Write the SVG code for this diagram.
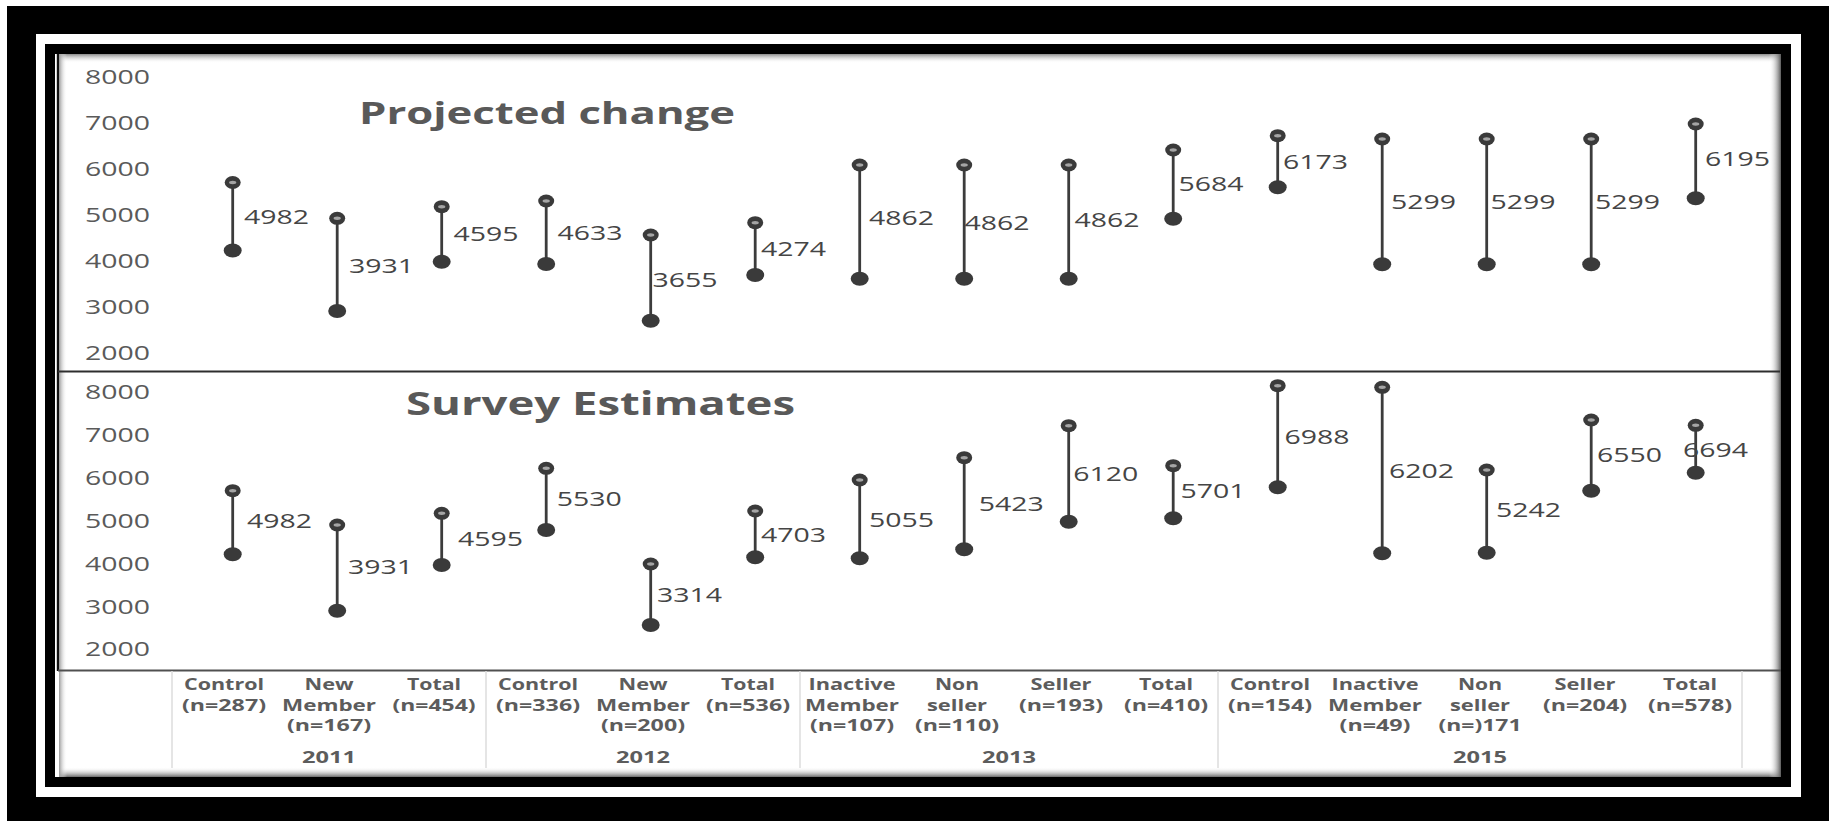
<svg xmlns="http://www.w3.org/2000/svg" xmlns:xlink="http://www.w3.org/1999/xlink" width="1831" height="821" viewBox="0 0 1831 821">
<defs>
<style>
.ax{font-family:"Open Sans","Liberation Sans",sans-serif;font-size:20px;fill:#5a5a5a;text-anchor:end}
.dl{font-family:"Open Sans","Liberation Sans",sans-serif;font-size:20px;fill:#454545}
.tt{font-family:"Open Sans","Liberation Sans",sans-serif;font-weight:bold;fill:#595959}
.cat{font-family:"Open Sans","Liberation Sans",sans-serif;font-weight:bold;font-size:16px;fill:#5c5c5c;text-anchor:middle}
.stem{stroke:#3c3c3c;stroke-width:2.8}
.sep{stroke:#dcdcdc;stroke-width:1.5}
</style>
<linearGradient id="gTop" x1="0" y1="0" x2="0" y2="1"><stop offset="0" stop-color="#8a8a8a"/><stop offset="1" stop-color="#ffffff" stop-opacity="0"/></linearGradient>
<linearGradient id="gBot" x1="0" y1="1" x2="0" y2="0"><stop offset="0" stop-color="#6a6a6a"/><stop offset="1" stop-color="#ffffff" stop-opacity="0"/></linearGradient>
<linearGradient id="gLeft" x1="0" y1="0" x2="1" y2="0"><stop offset="0" stop-color="#9a9a9a"/><stop offset="1" stop-color="#ffffff" stop-opacity="0"/></linearGradient>
<linearGradient id="gRight" x1="1" y1="0" x2="0" y2="0"><stop offset="0" stop-color="#5a5a5a"/><stop offset="1" stop-color="#ffffff" stop-opacity="0"/></linearGradient>
<g id="mt"><ellipse cx="0" cy="0" rx="8" ry="6.5" fill="#3a3a3a"/><ellipse cx="0" cy="0" rx="3.6" ry="1.7" fill="#a5a5a5"/></g>
<g id="mb"><ellipse cx="0" cy="0" rx="9" ry="7" fill="#3a3a3a"/></g>
</defs>
<rect x="0" y="0" width="1831" height="821" fill="#ffffff"/>
<g id="frame">
<rect x="7" y="6" width="1822" height="815" fill="#000000"/>
<rect x="36" y="34" width="1765" height="763" fill="#ffffff"/>
<rect x="45" y="44" width="1746" height="743" fill="#000000"/>
<rect x="55" y="54" width="1726" height="723" fill="#ffffff"/>
<rect x="59" y="54" width="1722" height="9" fill="url(#gTop)"/>
<rect x="59" y="767" width="1722" height="10" fill="url(#gBot)"/>
<rect x="59" y="54" width="8" height="723" fill="url(#gLeft)"/>
<rect x="1769" y="54" width="12" height="723" fill="url(#gRight)"/>
<rect x="56.8" y="54" width="2.2" height="617" fill="#111111"/>
</g>
<g id="axes">
<line x1="58" y1="371.5" x2="1780" y2="371.5" stroke="#2e2e2e" stroke-width="2"/>
<line x1="58" y1="670.5" x2="1781" y2="670.5" stroke="#505050" stroke-width="2"/>
<line class="sep" x1="172" y1="671" x2="172" y2="768"/>
<line class="sep" x1="486" y1="671" x2="486" y2="768"/>
<line class="sep" x1="800" y1="671" x2="800" y2="768"/>
<line class="sep" x1="1218" y1="671" x2="1218" y2="768"/>
<line class="sep" x1="1742" y1="671" x2="1742" y2="768"/>
</g>
<g id="yaxis-top">
<text class="ax" x="150" y="84" textLength="65" lengthAdjust="spacingAndGlyphs">8000</text>
<text class="ax" x="150" y="130" textLength="65" lengthAdjust="spacingAndGlyphs">7000</text>
<text class="ax" x="150" y="176" textLength="65" lengthAdjust="spacingAndGlyphs">6000</text>
<text class="ax" x="150" y="222" textLength="65" lengthAdjust="spacingAndGlyphs">5000</text>
<text class="ax" x="150" y="268" textLength="65" lengthAdjust="spacingAndGlyphs">4000</text>
<text class="ax" x="150" y="314" textLength="65" lengthAdjust="spacingAndGlyphs">3000</text>
<text class="ax" x="150" y="360" textLength="65" lengthAdjust="spacingAndGlyphs">2000</text>
</g>
<g id="yaxis-bottom">
<text class="ax" x="150" y="399" textLength="65" lengthAdjust="spacingAndGlyphs">8000</text>
<text class="ax" x="150" y="442" textLength="65" lengthAdjust="spacingAndGlyphs">7000</text>
<text class="ax" x="150" y="485" textLength="65" lengthAdjust="spacingAndGlyphs">6000</text>
<text class="ax" x="150" y="528" textLength="65" lengthAdjust="spacingAndGlyphs">5000</text>
<text class="ax" x="150" y="571" textLength="65" lengthAdjust="spacingAndGlyphs">4000</text>
<text class="ax" x="150" y="614" textLength="65" lengthAdjust="spacingAndGlyphs">3000</text>
<text class="ax" x="150" y="656" textLength="65" lengthAdjust="spacingAndGlyphs">2000</text>
</g>
<g id="titles">
<text class="tt" x="359" y="124" font-size="31" textLength="376" lengthAdjust="spacingAndGlyphs">Projected change</text>
<text class="tt" x="406" y="415" font-size="32" textLength="389" lengthAdjust="spacingAndGlyphs">Survey Estimates</text>
</g>
<g id="connectors">
<line class="stem" x1="232.7" y1="182.5" x2="232.7" y2="250.5"/>
<line class="stem" x1="337.2" y1="218.3" x2="337.2" y2="311"/>
<line class="stem" x1="441.7" y1="206.7" x2="441.7" y2="261.7"/>
<line class="stem" x1="546.2" y1="201" x2="546.2" y2="264"/>
<line class="stem" x1="650.7" y1="235" x2="650.7" y2="320.7"/>
<line class="stem" x1="755.2" y1="222.7" x2="755.2" y2="275"/>
<line class="stem" x1="859.7" y1="165" x2="859.7" y2="278.7"/>
<line class="stem" x1="964.2" y1="165" x2="964.2" y2="278.7"/>
<line class="stem" x1="1068.7" y1="165" x2="1068.7" y2="278.7"/>
<line class="stem" x1="1173.2" y1="150" x2="1173.2" y2="218.7"/>
<line class="stem" x1="1277.7" y1="135.7" x2="1277.7" y2="187.3"/>
<line class="stem" x1="1382.2" y1="139" x2="1382.2" y2="264.3"/>
<line class="stem" x1="1486.7" y1="139" x2="1486.7" y2="264.3"/>
<line class="stem" x1="1591.2" y1="139" x2="1591.2" y2="264.3"/>
<line class="stem" x1="1695.7" y1="124" x2="1695.7" y2="198.3"/>
<line class="stem" x1="232.7" y1="490.7" x2="232.7" y2="554.3"/>
<line class="stem" x1="337.2" y1="525" x2="337.2" y2="610.7"/>
<line class="stem" x1="441.7" y1="513.3" x2="441.7" y2="565"/>
<line class="stem" x1="546.2" y1="468.3" x2="546.2" y2="530"/>
<line class="stem" x1="650.7" y1="564" x2="650.7" y2="625"/>
<line class="stem" x1="755.2" y1="511" x2="755.2" y2="557.3"/>
<line class="stem" x1="859.7" y1="480" x2="859.7" y2="558.3"/>
<line class="stem" x1="964.2" y1="457.7" x2="964.2" y2="549.3"/>
<line class="stem" x1="1068.7" y1="425.7" x2="1068.7" y2="521.7"/>
<line class="stem" x1="1173.2" y1="465.7" x2="1173.2" y2="518.3"/>
<line class="stem" x1="1277.7" y1="385.7" x2="1277.7" y2="487.3"/>
<line class="stem" x1="1382.2" y1="387.3" x2="1382.2" y2="553.3"/>
<line class="stem" x1="1486.7" y1="470" x2="1486.7" y2="552.7"/>
<line class="stem" x1="1591.2" y1="420" x2="1591.2" y2="490.7"/>
<line class="stem" x1="1695.7" y1="425.3" x2="1695.7" y2="472.7"/>
</g>
<g id="markers-top">
<use xlink:href="#mt" x="232.7" y="182.5"/><use xlink:href="#mb" x="232.7" y="250.5"/>
<use xlink:href="#mt" x="337.2" y="218.3"/><use xlink:href="#mb" x="337.2" y="311"/>
<use xlink:href="#mt" x="441.7" y="206.7"/><use xlink:href="#mb" x="441.7" y="261.7"/>
<use xlink:href="#mt" x="546.2" y="201"/><use xlink:href="#mb" x="546.2" y="264"/>
<use xlink:href="#mt" x="650.7" y="235"/><use xlink:href="#mb" x="650.7" y="320.7"/>
<use xlink:href="#mt" x="755.2" y="222.7"/><use xlink:href="#mb" x="755.2" y="275"/>
<use xlink:href="#mt" x="859.7" y="165"/><use xlink:href="#mb" x="859.7" y="278.7"/>
<use xlink:href="#mt" x="964.2" y="165"/><use xlink:href="#mb" x="964.2" y="278.7"/>
<use xlink:href="#mt" x="1068.7" y="165"/><use xlink:href="#mb" x="1068.7" y="278.7"/>
<use xlink:href="#mt" x="1173.2" y="150"/><use xlink:href="#mb" x="1173.2" y="218.7"/>
<use xlink:href="#mt" x="1277.7" y="135.7"/><use xlink:href="#mb" x="1277.7" y="187.3"/>
<use xlink:href="#mt" x="1382.2" y="139"/><use xlink:href="#mb" x="1382.2" y="264.3"/>
<use xlink:href="#mt" x="1486.7" y="139"/><use xlink:href="#mb" x="1486.7" y="264.3"/>
<use xlink:href="#mt" x="1591.2" y="139"/><use xlink:href="#mb" x="1591.2" y="264.3"/>
<use xlink:href="#mt" x="1695.7" y="124"/><use xlink:href="#mb" x="1695.7" y="198.3"/>
</g>
<g id="markers-bottom">
<use xlink:href="#mt" x="232.7" y="490.7"/><use xlink:href="#mb" x="232.7" y="554.3"/>
<use xlink:href="#mt" x="337.2" y="525"/><use xlink:href="#mb" x="337.2" y="610.7"/>
<use xlink:href="#mt" x="441.7" y="513.3"/><use xlink:href="#mb" x="441.7" y="565"/>
<use xlink:href="#mt" x="546.2" y="468.3"/><use xlink:href="#mb" x="546.2" y="530"/>
<use xlink:href="#mt" x="650.7" y="564"/><use xlink:href="#mb" x="650.7" y="625"/>
<use xlink:href="#mt" x="755.2" y="511"/><use xlink:href="#mb" x="755.2" y="557.3"/>
<use xlink:href="#mt" x="859.7" y="480"/><use xlink:href="#mb" x="859.7" y="558.3"/>
<use xlink:href="#mt" x="964.2" y="457.7"/><use xlink:href="#mb" x="964.2" y="549.3"/>
<use xlink:href="#mt" x="1068.7" y="425.7"/><use xlink:href="#mb" x="1068.7" y="521.7"/>
<use xlink:href="#mt" x="1173.2" y="465.7"/><use xlink:href="#mb" x="1173.2" y="518.3"/>
<use xlink:href="#mt" x="1277.7" y="385.7"/><use xlink:href="#mb" x="1277.7" y="487.3"/>
<use xlink:href="#mt" x="1382.2" y="387.3"/><use xlink:href="#mb" x="1382.2" y="553.3"/>
<use xlink:href="#mt" x="1486.7" y="470"/><use xlink:href="#mb" x="1486.7" y="552.7"/>
<use xlink:href="#mt" x="1591.2" y="420"/><use xlink:href="#mb" x="1591.2" y="490.7"/>
<use xlink:href="#mt" x="1695.7" y="425.3"/><use xlink:href="#mb" x="1695.7" y="472.7"/>
</g>
<g id="labels-top">
<text class="dl" x="244" y="224" textLength="65" lengthAdjust="spacingAndGlyphs">4982</text>
<text class="dl" x="349" y="273" textLength="65" lengthAdjust="spacingAndGlyphs">3931</text>
<text class="dl" x="453.5" y="241" textLength="65" lengthAdjust="spacingAndGlyphs">4595</text>
<text class="dl" x="557.5" y="240" textLength="65" lengthAdjust="spacingAndGlyphs">4633</text>
<text class="dl" x="652.6" y="287" textLength="65" lengthAdjust="spacingAndGlyphs">3655</text>
<text class="dl" x="761" y="256" textLength="65" lengthAdjust="spacingAndGlyphs">4274</text>
<text class="dl" x="869" y="225" textLength="65" lengthAdjust="spacingAndGlyphs">4862</text>
<text class="dl" x="964.6" y="230" textLength="65" lengthAdjust="spacingAndGlyphs">4862</text>
<text class="dl" x="1074.5" y="227" textLength="65" lengthAdjust="spacingAndGlyphs">4862</text>
<text class="dl" x="1178.5" y="191" textLength="65" lengthAdjust="spacingAndGlyphs">5684</text>
<text class="dl" x="1283" y="169" textLength="65" lengthAdjust="spacingAndGlyphs">6173</text>
<text class="dl" x="1391" y="209" textLength="65" lengthAdjust="spacingAndGlyphs">5299</text>
<text class="dl" x="1490.4" y="209" textLength="65" lengthAdjust="spacingAndGlyphs">5299</text>
<text class="dl" x="1595" y="209" textLength="65" lengthAdjust="spacingAndGlyphs">5299</text>
<text class="dl" x="1705" y="166" textLength="65" lengthAdjust="spacingAndGlyphs">6195</text>
</g>
<g id="labels-bottom">
<text class="dl" x="247" y="528" textLength="65" lengthAdjust="spacingAndGlyphs">4982</text>
<text class="dl" x="348" y="574" textLength="65" lengthAdjust="spacingAndGlyphs">3931</text>
<text class="dl" x="458" y="546" textLength="65" lengthAdjust="spacingAndGlyphs">4595</text>
<text class="dl" x="556.7" y="506" textLength="65" lengthAdjust="spacingAndGlyphs">5530</text>
<text class="dl" x="657" y="602" textLength="65" lengthAdjust="spacingAndGlyphs">3314</text>
<text class="dl" x="761" y="542" textLength="65" lengthAdjust="spacingAndGlyphs">4703</text>
<text class="dl" x="869" y="527" textLength="65" lengthAdjust="spacingAndGlyphs">5055</text>
<text class="dl" x="978.8" y="511" textLength="65" lengthAdjust="spacingAndGlyphs">5423</text>
<text class="dl" x="1073.3" y="481" textLength="65" lengthAdjust="spacingAndGlyphs">6120</text>
<text class="dl" x="1180.5" y="498" textLength="65" lengthAdjust="spacingAndGlyphs">5701</text>
<text class="dl" x="1284.5" y="444" textLength="65" lengthAdjust="spacingAndGlyphs">6988</text>
<text class="dl" x="1389" y="478" textLength="65" lengthAdjust="spacingAndGlyphs">6202</text>
<text class="dl" x="1496" y="517" textLength="65" lengthAdjust="spacingAndGlyphs">5242</text>
<text class="dl" x="1597" y="462" textLength="65" lengthAdjust="spacingAndGlyphs">6550</text>
<text class="dl" x="1683" y="457" textLength="65" lengthAdjust="spacingAndGlyphs">6694</text>
</g>
<g id="categories">
<text class="cat" x="224" y="690" textLength="80" lengthAdjust="spacingAndGlyphs">Control</text>
<text class="cat" x="224" y="711" textLength="84" lengthAdjust="spacingAndGlyphs">(n=287)</text>
<text class="cat" x="329" y="690" textLength="49" lengthAdjust="spacingAndGlyphs">New</text>
<text class="cat" x="329" y="711" textLength="94" lengthAdjust="spacingAndGlyphs">Member</text>
<text class="cat" x="329" y="731" textLength="84" lengthAdjust="spacingAndGlyphs">(n=167)</text>
<text class="cat" x="434" y="690" textLength="54" lengthAdjust="spacingAndGlyphs">Total</text>
<text class="cat" x="434" y="711" textLength="83" lengthAdjust="spacingAndGlyphs">(n=454)</text>
<text class="cat" x="538" y="690" textLength="80" lengthAdjust="spacingAndGlyphs">Control</text>
<text class="cat" x="538" y="711" textLength="84" lengthAdjust="spacingAndGlyphs">(n=336)</text>
<text class="cat" x="643" y="690" textLength="49" lengthAdjust="spacingAndGlyphs">New</text>
<text class="cat" x="643" y="711" textLength="94" lengthAdjust="spacingAndGlyphs">Member</text>
<text class="cat" x="643" y="731" textLength="84" lengthAdjust="spacingAndGlyphs">(n=200)</text>
<text class="cat" x="748" y="690" textLength="54" lengthAdjust="spacingAndGlyphs">Total</text>
<text class="cat" x="748" y="711" textLength="84" lengthAdjust="spacingAndGlyphs">(n=536)</text>
<text class="cat" x="852" y="690" textLength="87" lengthAdjust="spacingAndGlyphs">Inactive</text>
<text class="cat" x="852" y="711" textLength="94" lengthAdjust="spacingAndGlyphs">Member</text>
<text class="cat" x="852" y="731" textLength="84" lengthAdjust="spacingAndGlyphs">(n=107)</text>
<text class="cat" x="957" y="690" textLength="44" lengthAdjust="spacingAndGlyphs">Non</text>
<text class="cat" x="957" y="711" textLength="60" lengthAdjust="spacingAndGlyphs">seller</text>
<text class="cat" x="957" y="731" textLength="84" lengthAdjust="spacingAndGlyphs">(n=110)</text>
<text class="cat" x="1061" y="690" textLength="61" lengthAdjust="spacingAndGlyphs">Seller</text>
<text class="cat" x="1061" y="711" textLength="84" lengthAdjust="spacingAndGlyphs">(n=193)</text>
<text class="cat" x="1166" y="690" textLength="54" lengthAdjust="spacingAndGlyphs">Total</text>
<text class="cat" x="1166" y="711" textLength="84" lengthAdjust="spacingAndGlyphs">(n=410)</text>
<text class="cat" x="1270" y="690" textLength="80" lengthAdjust="spacingAndGlyphs">Control</text>
<text class="cat" x="1270" y="711" textLength="84" lengthAdjust="spacingAndGlyphs">(n=154)</text>
<text class="cat" x="1375" y="690" textLength="87" lengthAdjust="spacingAndGlyphs">Inactive</text>
<text class="cat" x="1375" y="711" textLength="94" lengthAdjust="spacingAndGlyphs">Member</text>
<text class="cat" x="1375" y="731" textLength="71" lengthAdjust="spacingAndGlyphs">(n=49)</text>
<text class="cat" x="1480" y="690" textLength="44" lengthAdjust="spacingAndGlyphs">Non</text>
<text class="cat" x="1480" y="711" textLength="60" lengthAdjust="spacingAndGlyphs">seller</text>
<text class="cat" x="1480" y="731" textLength="83" lengthAdjust="spacingAndGlyphs">(n=)171</text>
<text class="cat" x="1585" y="690" textLength="61" lengthAdjust="spacingAndGlyphs">Seller</text>
<text class="cat" x="1585" y="711" textLength="84" lengthAdjust="spacingAndGlyphs">(n=204)</text>
<text class="cat" x="1690" y="690" textLength="54" lengthAdjust="spacingAndGlyphs">Total</text>
<text class="cat" x="1690" y="711" textLength="84" lengthAdjust="spacingAndGlyphs">(n=578)</text>
<text class="cat" x="329" y="763" textLength="54" lengthAdjust="spacingAndGlyphs">2011</text>
<text class="cat" x="643" y="763" textLength="54" lengthAdjust="spacingAndGlyphs">2012</text>
<text class="cat" x="1009" y="763" textLength="54" lengthAdjust="spacingAndGlyphs">2013</text>
<text class="cat" x="1480" y="763" textLength="54" lengthAdjust="spacingAndGlyphs">2015</text>
</g>
</svg>
